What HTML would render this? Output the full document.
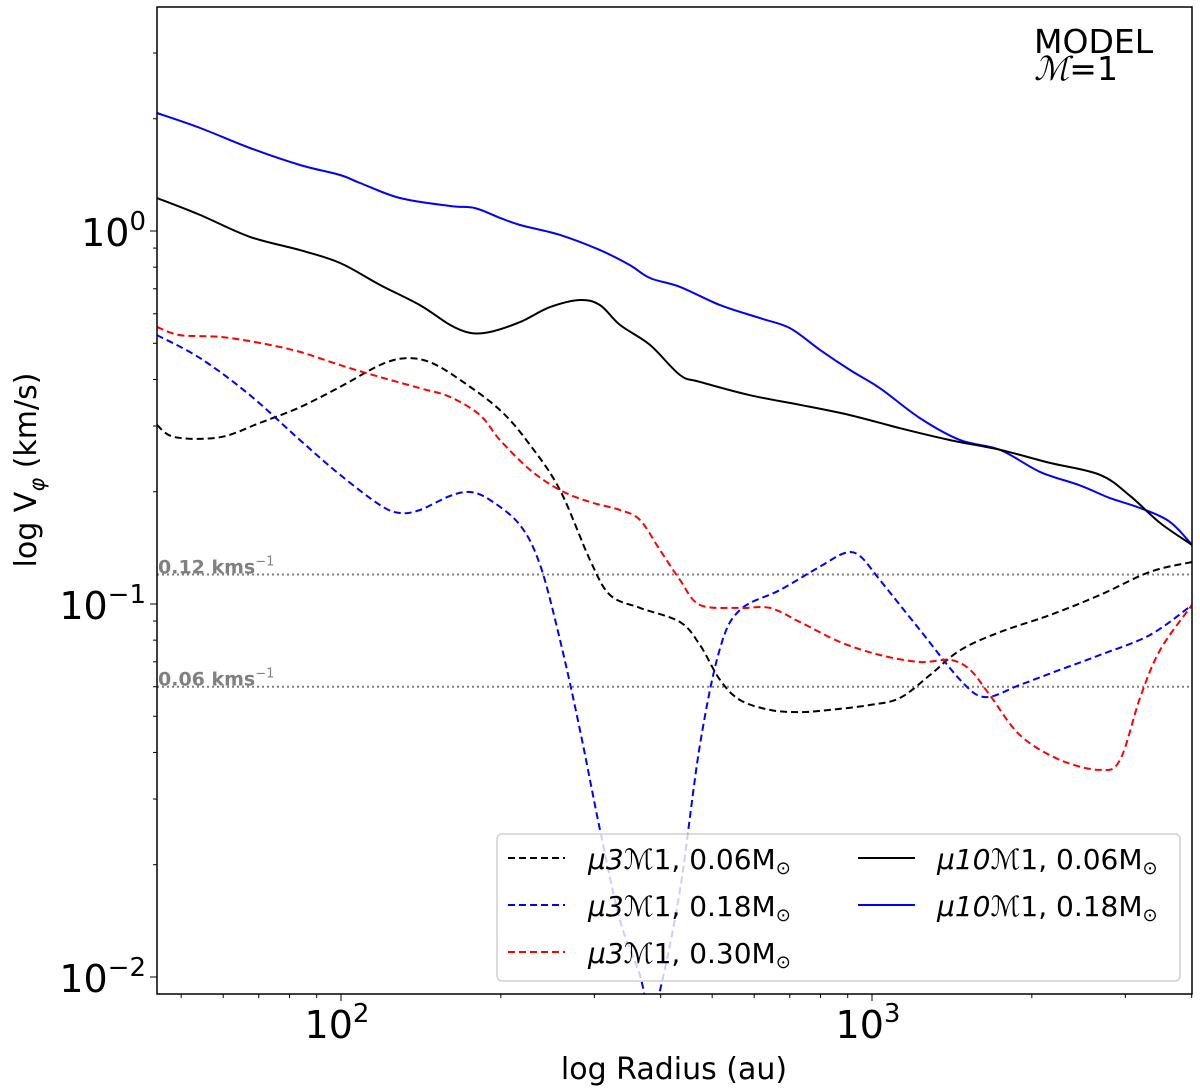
<!DOCTYPE html>
<html><head><meta charset="utf-8">
<style>
html,body{margin:0;padding:0;background:#fff;}
svg{display:block;font-family:"DejaVu Sans","Liberation Sans",sans-serif;}
</style></head>
<body>
<svg id="chart" width="1200" height="1092" viewBox="0 0 1200 1092">
<defs><clipPath id="plotclip"><rect x="157" y="7" width="1035" height="987"/></clipPath></defs>
<g id="grid-lines"></g>
<g id="series" clip-path="url(#plotclip)"></g>
<g id="axes"></g>
<text x="1034" y="53" font-size="33">MODEL</text>
<text x="1034" y="80" font-size="33"><tspan font-style="italic" font-family="Liberation Serif,serif">ℳ</tspan>=1</text>
<g id="legend"></g>
</svg>
<script>
const blueSolidR=[45.0,54.3,67.4,83.7,99.6,108.6,129.1,160.4,178.8,199.3,217.3,258.5,307.4,350,381.8,434.9,517.3,615.2,700.6,798,909,1035,1231,1466,1742,2072,2464,2806,3197,3640,4006];
const blueSolidV=[2.072,1.889,1.669,1.503,1.413,1.345,1.226,1.167,1.152,1.084,1.038,0.976,0.889,0.810,0.748,0.708,0.633,0.584,0.549,0.480,0.424,0.379,0.315,0.275,0.259,0.226,0.208,0.1923,0.1809,0.166,0.144];
const blackSolidR=[45.0,54.3,67.4,83.7,99.6,118.4,140.8,160.4,175.0,190.8,217.3,247.5,281.8,307.4,335.3,381.8,434.9,474.3,589,731.6,909,1129,1403,1742,2163,2687,3061,3486,4006];
const blackSolidV=[1.226,1.104,0.964,0.889,0.821,0.717,0.633,0.560,0.533,0.536,0.570,0.625,0.653,0.633,0.560,0.495,0.411,0.394,0.363,0.342,0.321,0.296,0.275,0.259,0.239,0.222,0.195,0.165,0.144];
const blackDashR=[45.0,48.7,59.2,70.4,83.7,99.6,118.4,132.0,147.1,167.5,199.3,227.0,258.5,294.4,321.1,365.6,434.9,474.3,517.3,564.1,642.4,731.6,833.4,990.8,1129,1286,1466,1742,2163,2687,3338,4006];
const blackDashV=[0.302,0.280,0.280,0.306,0.337,0.382,0.437,0.456,0.445,0.399,0.331,0.267,0.202,0.1312,0.1057,0.0976,0.0895,0.0776,0.0626,0.0553,0.0520,0.0513,0.0520,0.0536,0.0560,0.0645,0.0752,0.0841,0.0934,0.1057,0.1219,0.1296];
const blueDashR=[45.0,54.3,67.4,83.7,99.6,118.4,129.1,140.8,160.4,175.0,190.8,217.3,237.1,258.5,281.8,307.4,335.3,365.6,381.8,398.8,434.9,474.3,517.3,564.1,670.9,798,889,948.7,1035,1231,1466,1633,1900,2259,2687,3338,4006];
const blueDashV=[0.526,0.456,0.363,0.275,0.222,0.1842,0.1754,0.1787,0.1948,0.1996,0.190,0.1628,0.1272,0.0801,0.0460,0.0248,0.0142,0.0101,0.0078,0.0092,0.0171,0.0420,0.0760,0.0964,0.109,0.126,0.1370,0.1345,0.116,0.0852,0.0626,0.0563,0.0607,0.0666,0.0730,0.0826,0.0994];
const redDashR=[45.0,49.7,59.2,70.4,83.7,99.6,118.4,140.8,160.4,182.7,199.3,227.0,258.5,294.4,335.3,365.6,398.8,434.9,474.3,564.1,642.4,731.6,870.4,1035,1231,1403,1530,1667,1900,2259,2687,2931,3197,3486,4006];
const redDashV=[0.553,0.526,0.520,0.501,0.474,0.437,0.406,0.379,0.359,0.321,0.275,0.229,0.202,0.1877,0.1787,0.168,0.1395,0.116,0.0994,0.0976,0.0976,0.0895,0.0791,0.0730,0.0699,0.0708,0.0666,0.0570,0.0445,0.0382,0.0359,0.0382,0.0560,0.0752,0.0994];
const refLevels=[0.12,0.06];
const refLabels=["0.12 kms","0.06 kms"];
const xTickVals=[100,1000];
const xTickExp=["2","3"];
const yTickVals=[1,0.1,0.01];
const yTickExp=["0","−1","−2"];

const NS="http://www.w3.org/2000/svg";
const X0=157,X1=1192,Y0=7,Y1=994;
const PXD=531, PYD=373;
function sx(r){return 341+(Math.log10(r)-2)*PXD;}
function sy(v){return 231-Math.log10(v)*PYD;}
function mk(tag,attrs,parent){const e=document.createElementNS(NS,tag);for(const k in attrs)e.setAttribute(k,attrs[k]);parent.appendChild(e);return e;}
function smooth(pts){let d="M"+pts[0][0].toFixed(1)+","+pts[0][1].toFixed(1);
 for(let i=0;i<pts.length-1;i++){const p0=pts[Math.max(0,i-1)],p1=pts[i],p2=pts[i+1],p3=pts[Math.min(pts.length-1,i+2)];
  const c1=[p1[0]+(p2[0]-p0[0])/6,p1[1]+(p2[1]-p0[1])/6],c2=[p2[0]-(p3[0]-p1[0])/6,p2[1]-(p3[1]-p1[1])/6];
  d+="C"+c1[0].toFixed(1)+","+c1[1].toFixed(1)+" "+c2[0].toFixed(1)+","+c2[1].toFixed(1)+" "+p2[0].toFixed(1)+","+p2[1].toFixed(1);}
 return d;}

const grid=document.getElementById('grid-lines');
refLevels.forEach((v,i)=>{
 const l=mk('line',{x1:X0,x2:X1,y1:sy(v),y2:sy(v),stroke:'#808080','stroke-width':2,'stroke-dasharray':'2,3'},grid);
 
 
 const t=mk('text',{x:158,y:sy(v)-1,'font-size':19,'font-weight':'bold',fill:'#808080'},grid);
 
 
 t.textContent=refLabels[i];
 const s=mk('tspan',{dy:-8,'font-size':13,'font-weight':'normal'},t);s.textContent="−1";
});

const series=document.getElementById('series');
function draw(R,V,color,dash,name){
 const pts=R.map((r,i)=>[sx(r),sy(V[i])]);
 const p=mk('path',{d:smooth(pts),fill:'none',stroke:color,'stroke-width':2,'stroke-dasharray':dash||'none'},series);
 
 
}
draw(blueSolidR,blueSolidV,'#0000ff','', 'series-mu10-018');
draw(blackSolidR,blackSolidV,'#000','', 'series-mu10-006');
draw(blackDashR,blackDashV,'#000','7,4','series-mu3-006');
draw(blueDashR,blueDashV,'#0000ff','7,4','series-mu3-018');
draw(redDashR,redDashV,'#ff0000','7,4','series-mu3-030');

const axes=document.getElementById('axes');
mk('rect',{x:X0,y:Y0,width:X1-X0,height:Y1-Y0,fill:'none',stroke:'#000','stroke-width':1.5},axes);
for(let dec=1;dec<=3;dec++)for(let m=1;m<10;m++){const r=m*Math.pow(10,dec);const x=sx(r);if(x<X0||x>X1)continue;
 mk('line',{x1:x,x2:x,y1:Y1,y2:Y1+(m===1?7:4),stroke:'#000','stroke-width':1},axes);}
xTickVals.forEach((v,i)=>{const t=mk('text',{x:sx(v)-4,y:1038,'font-size':38,'text-anchor':'middle'},axes);
 
 
 t.textContent="10";const s=mk('tspan',{dy:-16,'font-size':26},t);s.textContent=xTickExp[i];});
for(let dec=-3;dec<=0;dec++)for(let m=1;m<10;m++){const v=m*Math.pow(10,dec);const y=sy(v);if(y<Y0||y>Y1)continue;
 mk('line',{x1:X0,x2:X0-(m===1?7:4),y1:y,y2:y,stroke:'#000','stroke-width':1},axes);}
yTickVals.forEach((v,i)=>{const t=mk('text',{x:146,y:sy(v)+15,'font-size':38,'text-anchor':'end'},axes);
 
 
 t.textContent="10";const s=mk('tspan',{dy:-16,'font-size':26},t);s.textContent=yTickExp[i];});
const xt=mk('text',{x:674,y:1079,'font-size':30,'text-anchor':'middle'},axes);


xt.textContent="log Radius (au)";
const yt=mk('text',{x:0,y:0,'font-size':30,'text-anchor':'middle',transform:'translate(36,470) rotate(-90)'},axes);


yt.textContent="log V";const ys=mk('tspan',{dy:8,'font-size':21,'font-style':'italic'},yt);ys.textContent="φ";
const ys2=mk('tspan',{dy:-8},yt);ys2.textContent=" (km/s)";

const lg=document.getElementById('legend');
mk('rect',{x:497,y:834,width:683,height:147,rx:5,fill:'rgba(255,255,255,0.8)',stroke:'#d0d0d0','stroke-width':1.5},lg);
const legColors=['#000','#0000ff','#ff0000','#000','#0000ff'];
const legDash=['7,4','7,4','7,4','',''];
const legMu=['3','3','3','10','10'];
const legMass=['0.06','0.18','0.30','0.06','0.18'];
legMu.forEach((mu,i)=>{
 const col=i<3?0:1,row=i<3?i:i-3;
 const lx=col===0?508:858, tx=col===0?588:937, y=858+row*47;
 const g=mk('g',{},lg);
 
 
 mk('line',{x1:lx,x2:lx+57,y1:y,y2:y,stroke:legColors[i],'stroke-width':2,'stroke-dasharray':legDash[i]||'none'},g);
 const t=mk('text',{x:tx,y:y+11,'font-size':28},g);
 const a=mk('tspan',{'font-style':'italic'},t);a.textContent="μ"+mu+"ℳ";
 const b=mk('tspan',{},t);b.textContent="1, "+legMass[i]+"M";
 const c=mk('tspan',{'font-size':18,dy:5},t);c.textContent="⊙";
});
</script>
</body></html>
